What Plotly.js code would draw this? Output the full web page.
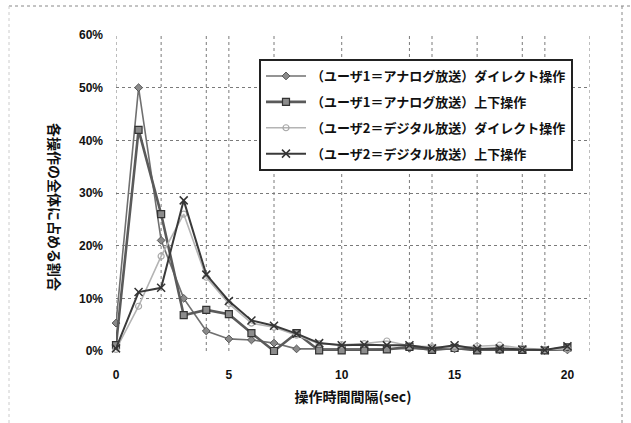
<!DOCTYPE html>
<html>
<head>
<meta charset="utf-8">
<script src="https://cdn.plot.ly/plotly-3.0.1.min.js"></script>
<style>
html,body{margin:0;padding:0;background:#fff;}
#chart{width:631px;height:423px;}
</style>
</head>
<body>
<div id="chart"></div>
<script>
// Operation interval (sec)
const intervals = [0,1,2,3,4,5,6,7,8,9,10,11,12,13,14,15,16,17,18,19,20];
// Share of all operations (%)
const user1Direct = [5.3,50,21,10,3.8,2.3,2.1,1.5,0.4,0.4,0.3,0.3,0.4,0.5,0.3,0.4,0.3,0.2,0.3,0.1,0.2];
const user1UpDown = [1.1,42,26,6.8,7.8,7,3.4,0,3.4,0.1,0.1,0.1,0.3,0.8,0.2,0.6,0.1,0.3,0.2,0.1,0.7];
const user2Direct = [0.3,8.5,18,26,14,9,5.3,4.5,3,1.4,1.2,1.4,1.9,1.0,0.8,0.6,0.9,1.1,0.5,0.3,0.4];
const user2UpDown = [0.5,11.2,12,28.6,14.5,9.5,5.8,4.8,3.3,1.5,1.1,1.2,1.1,1.1,0.5,1.1,0.4,0.5,0.3,0.2,0.9];
const seriesNames = [
  "（ユーザ1＝アナログ放送）ダイレクト操作",
  "（ユーザ1＝アナログ放送）上下操作",
  "（ユーザ2＝デジタル放送）ダイレクト操作",
  "（ユーザ2＝デジタル放送）上下操作"
];
const xTickVals = [0,5,10,15,20];
const xGridVals = [0,2,4,5,7,10,13,14,16,18,19,21];
const yTitle = "各操作の全体に占める割合";
const xTitle = "操作時間間隔(sec)";

const JP = "'Noto Sans CJK JP', 'Noto Sans', sans-serif";

const traces = [
  {x: intervals, y: user1Direct, name: seriesNames[0], legendgroup:'a', type:'scatter', mode:'lines+markers',
   line:{color:'#707070', width:1.6},
   marker:{symbol:'diamond', size:6, color:'#8a8a8a', line:{color:'#555', width:1}}, cliponaxis:false},
  {x: intervals, y: user1UpDown, name: seriesNames[1], legendgroup:'b', type:'scatter', mode:'lines+markers',
   line:{color:'#5a5a5a', width:2.6},
   marker:{symbol:'square', size:7, color:'#8c8c8c', line:{color:'#333', width:1.2}}, cliponaxis:false},
  {x: intervals, y: user2Direct, name: seriesNames[2], legendgroup:'c', type:'scatter', mode:'lines+markers',
   line:{color:'#b4b4b4', width:1.6},
   marker:{symbol:'circle-open', size:6, color:'#a8a8a8', line:{width:1.2}}, cliponaxis:false},
  {x: intervals, y: user2UpDown, name: seriesNames[3], legendgroup:'d', type:'scatter', mode:'lines+markers',
   line:{color:'#3a3a3a', width:2},
   marker:{symbol:'x-thin-open', size:8, color:'#333', line:{color:'#333', width:1.5}}, cliponaxis:false}
];

const shapes = xGridVals.map(v => ({
  type:'line', xref:'x', yref:'paper', x0:v, x1:v, y0:0, y1:1,
  line:{color:'#7a7a7a', width:1, dash:'dot'}, layer:'below'
}));
// outer dotted frame of the figure
const px = p => (p-116)/474, py = p => (351-p)/316;
shapes.push({type:'line', xref:'paper', yref:'paper', x0:px(9), x1:px(631), y0:py(6), y1:py(6), line:{color:'#888', width:1, dash:'dot'}});
shapes.push({type:'line', xref:'paper', yref:'paper', x0:px(622), x1:px(622), y0:py(6), y1:py(423), line:{color:'#888', width:1, dash:'dot'}});
shapes.push({type:'line', xref:'paper', yref:'paper', x0:px(9), x1:px(9), y0:py(6), y1:py(423), line:{color:'#ccc', width:1, dash:'dot'}});

const layout = {
  width:631, height:423,
  margin:{l:116, r:41, t:35, b:72},
  paper_bgcolor:'#fff', plot_bgcolor:'#fff',
  showlegend:true,
  legend:{x:px(259), y:py(59), xanchor:'left', yanchor:'top',
    bordercolor:'#222', borderwidth:2, bgcolor:'#fff',
    font:{family:JP, size:13, color:'#111', weight:'bold'},
    tracegroupgap:6, itemwidth:40},
  xaxis:{range:[0,21], tickvals:xTickVals, showgrid:false, zeroline:false, showline:false,
    ticks:'', ticklabelstandoff:15,
    tickfont:{family:"'Liberation Sans', sans-serif", size:12, color:'#111', weight:'bold'},
    title:{text:xTitle, standoff:11, font:{family:JP, size:14, color:'#111', weight:'bold'}}},
  yaxis:{range:[0,60], dtick:10, ticksuffix:'%', showgrid:true, gridcolor:'#7a7a7a', griddash:'dot', gridwidth:1,
    zeroline:false, showline:false, ticks:'', ticklabelstandoff:12,
    tickfont:{family:"'Liberation Sans', sans-serif", size:12, color:'#111', weight:'bold'}},
  annotations:[
    {text:yTitle, xref:'paper', yref:'paper', x:px(55), y:py(207), textangle:90, showarrow:false,
     xanchor:'center', yanchor:'middle',
     font:{family:JP, size:14, color:'#111', weight:'bold'}}
  ],
  shapes: shapes
};

Plotly.newPlot('chart', traces, layout, {displayModeBar:false, staticPlot:true});
</script>
</body>
</html>
